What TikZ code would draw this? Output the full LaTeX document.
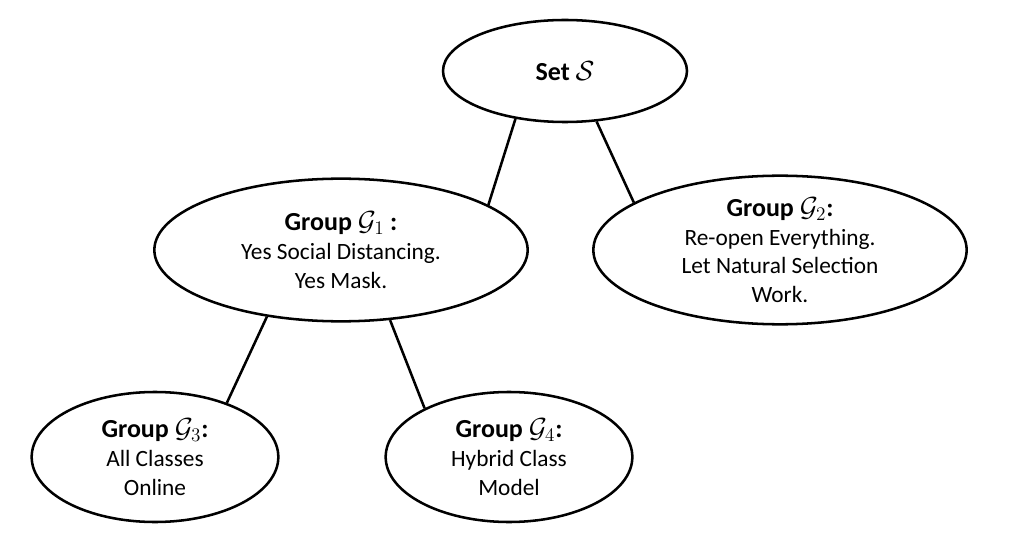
\documentclass[tikz,border=0pt]{standalone}
\usepackage{amsmath}
\usepackage{amsfonts}
\usepackage{amssymb}
\usepackage{fontspec}
\setmainfont{Carlito}
\usetikzlibrary{shapes.geometric}
\newcommand{\titlefont}{\fontsize{19.5}{22}\selectfont\bfseries}

\begin{document}
\begin{tikzpicture}[x=0.75pt, y=-0.75pt,
   group/.style={draw, ellipse, line width=1.9pt, inner sep=0pt, align=center,
      font=\fontsize{17.5}{21.5}\selectfont},
   wide/.style={minimum width=280pt, minimum height=107pt},
   small/.style={minimum width=185pt, minimum height=97.5pt},
   link/.style={line width=1.9pt}]
   \useasboundingbox (0, 0) rectangle (1014, 556);
   \node [group, minimum width=183pt, minimum height=76.5pt] (set) at (565, 71) {{\titlefont Set $\mathcal{S}$}};

   \node [group, wide] (g1) at (341, 250) {{\titlefont Group $\mathcal{G}_1$ :}\\Yes Social Distancing.\\Yes Mask.};
   \node [group, wide] (g2) at (780, 250) {{\titlefont Group $\mathcal{G}_2$:}\\Re-open Everything.\\Let Natural Selection\\Work.};

   \node [group, small] (g3) at (155, 457) {{\titlefont Group $\mathcal{G}_3$:}\\All Classes\\Online};
   \node [group, small] (g4) at (509, 457) {{\titlefont Group $\mathcal{G}_4$:}\\Hybrid Class\\Model};

   \draw [link] (set.224) -- (g1.17);
   \draw [link] (set.302) -- (g2.162);
   \draw [link] (g1.222) -- (g3.37);
   \draw [link] (g1.305) -- (g4.150);
\end{tikzpicture}
\end{document}
